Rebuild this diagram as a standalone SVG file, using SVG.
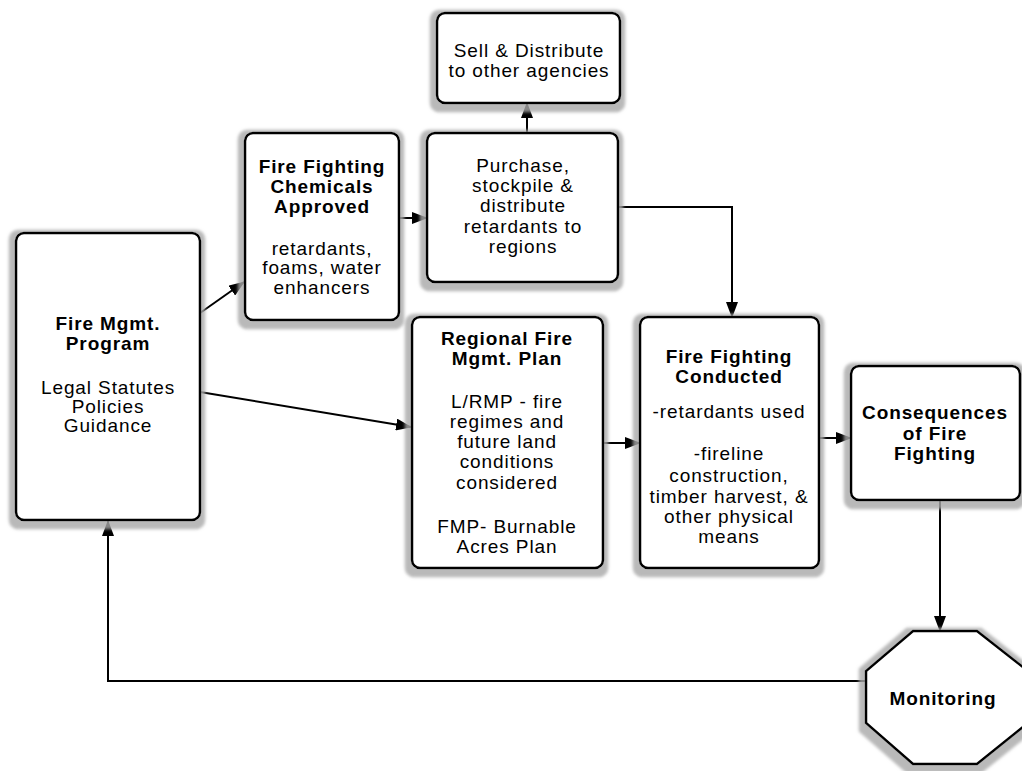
<svg xmlns="http://www.w3.org/2000/svg" width="1022" height="771" viewBox="0 0 1022 771">
<defs>
<filter id="sh" x="-20%" y="-20%" width="140%" height="140%">
<feMorphology in="SourceAlpha" operator="dilate" radius="5" result="d"/>
<feOffset in="d" dx="-1" dy="3" result="o"/>
<feGaussianBlur in="o" stdDeviation="1.8" result="b"/>
<feFlood flood-color="#a8a8a8" flood-opacity="0.8"/>
<feComposite in2="b" operator="in" result="s"/>
<feMerge><feMergeNode in="s"/><feMergeNode in="SourceGraphic"/></feMerge>
</filter>
<marker id="ah" viewBox="0 0 16 12" refX="15" refY="6" markerWidth="16" markerHeight="12" markerUnits="userSpaceOnUse" orient="auto">
<path d="M0,0 L16,6 L0,12 z" fill="#000"/>
</marker>
</defs>
<style>
.box{fill:#fff;stroke:#000;stroke-width:2.5}
text{font-family:"Liberation Sans",Arial,sans-serif;font-size:19px;letter-spacing:0.9px;text-anchor:middle;fill:#000}
.b{font-weight:bold}
.c{fill:none;stroke:#000;stroke-width:2}
</style>
<rect width="1022" height="771" fill="#fff"/>

<g id="connectors">
<line class="c" x1="200" y1="313" x2="244" y2="282" marker-end="url(#ah)"/>
<line class="c" x1="200" y1="392" x2="411" y2="427" marker-end="url(#ah)"/>
<line class="c" x1="399" y1="218" x2="427" y2="218" marker-end="url(#ah)"/>
<line class="c" x1="527" y1="133" x2="527" y2="103" marker-end="url(#ah)"/>
<polyline class="c" points="618,207 732,207 732,317" marker-end="url(#ah)"/>
<line class="c" x1="603" y1="443" x2="640" y2="443" marker-end="url(#ah)"/>
<line class="c" x1="819" y1="438" x2="851" y2="438" marker-end="url(#ah)"/>
<line class="c" x1="940" y1="500" x2="940" y2="631" marker-end="url(#ah)"/>
<polyline class="c" points="866,681 108,681 108,521" marker-end="url(#ah)"/>
</g>

<g id="fire-mgmt-program">
<rect class="box" x="16" y="233" width="184" height="287" rx="8" filter="url(#sh)"/>
<text x="108" y="330" class="b">Fire Mgmt.</text>
<text x="108" y="350" class="b">Program</text>
<text x="108" y="394">Legal Statutes</text>
<text x="108" y="413">Policies</text>
<text x="108" y="432">Guidance</text>
</g>

<g id="chemicals-approved">
<rect class="box" x="245" y="133" width="154" height="187" rx="8" filter="url(#sh)"/>
<text x="322" y="173" class="b">Fire Fighting</text>
<text x="322" y="193" class="b">Chemicals</text>
<text x="322" y="213" class="b">Approved</text>
<text x="322" y="255">retardants,</text>
<text x="322" y="274">foams, water</text>
<text x="322" y="294">enhancers</text>
</g>

<g id="sell-distribute">
<rect class="box" x="437" y="13" width="183" height="90" rx="8" filter="url(#sh)"/>
<text x="529" y="57">Sell &amp; Distribute</text>
<text x="529" y="77">to other agencies</text>
</g>

<g id="purchase">
<rect class="box" x="427" y="133" width="191" height="149" rx="8" filter="url(#sh)"/>
<text x="523" y="172">Purchase,</text>
<text x="523" y="192">stockpile &amp;</text>
<text x="523" y="212">distribute</text>
<text x="523" y="233">retardants to</text>
<text x="523" y="253">regions</text>
</g>

<g id="regional-plan">
<rect class="box" x="412" y="317" width="191" height="251" rx="8" filter="url(#sh)"/>
<text x="507" y="345" class="b">Regional Fire</text>
<text x="507" y="365" class="b">Mgmt. Plan</text>
<text x="507" y="408">L/RMP - fire</text>
<text x="507" y="428">regimes and</text>
<text x="507" y="448">future land</text>
<text x="507" y="468">conditions</text>
<text x="507" y="489">considered</text>
<text x="507" y="533">FMP- Burnable</text>
<text x="507" y="553">Acres Plan</text>
</g>

<g id="fire-fighting-conducted">
<rect class="box" x="640" y="317" width="179" height="251" rx="8" filter="url(#sh)"/>
<text x="729" y="363" class="b">Fire Fighting</text>
<text x="729" y="383" class="b">Conducted</text>
<text x="729" y="418">-retardants used</text>
<text x="729" y="460">-fireline</text>
<text x="729" y="482">construction,</text>
<text x="729" y="503">timber harvest, &amp;</text>
<text x="729" y="523">other physical</text>
<text x="729" y="543">means</text>
</g>

<g id="consequences">
<rect class="box" x="851" y="366" width="169" height="134" rx="8" filter="url(#sh)"/>
<text x="935" y="419" class="b">Consequences</text>
<text x="935" y="440" class="b">of Fire</text>
<text x="935" y="460" class="b">Fighting</text>
</g>

<g id="monitoring">
<polygon class="box" points="913,631 977,631 1028,671 1028,723 977,764 913,764 866,723 866,671" filter="url(#sh)"/>
<text x="943" y="705" class="b">Monitoring</text>
</g>
</svg>
